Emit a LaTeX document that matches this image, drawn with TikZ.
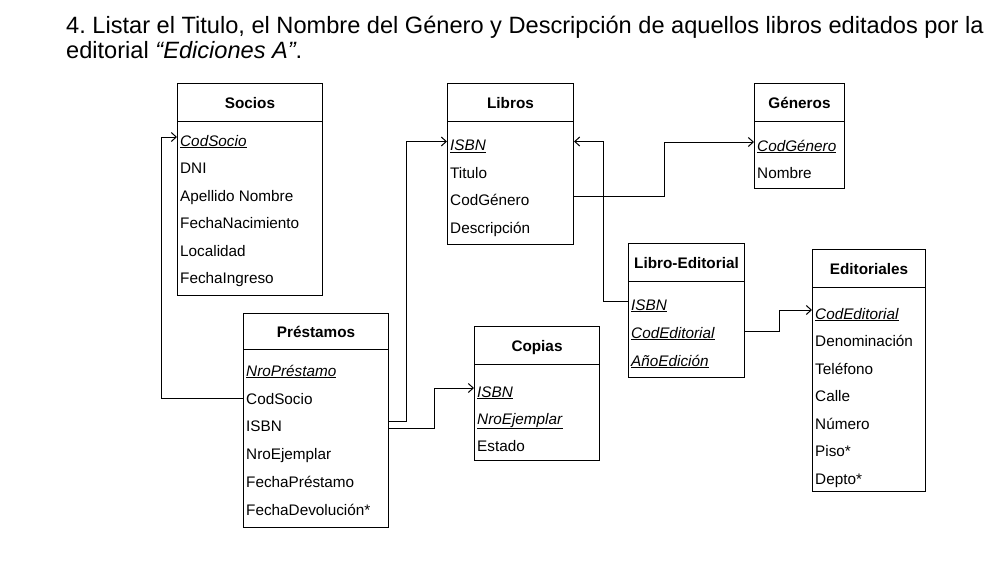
\documentclass[tikz,border=0pt]{standalone}
\usepackage{fontspec}
\setmainfont{Liberation Sans}
\usetikzlibrary{arrows.meta,calc}
\frenchspacing
\begin{document}
\begin{tikzpicture}[x=1pt,y=-1pt,
  box/.style={draw, line width=1pt, inner sep=0pt, anchor=north west},
  hdr/.style={box, font=\fontsize{15.3}{18}\selectfont\bfseries, text height=11pt, text depth=0pt},
  row/.style={anchor=west, inner sep=0pt, font=\fontsize{15.3}{18}\selectfont, text height=18pt, text depth=0pt},
  ttl/.style={anchor=base west, inner sep=0pt, font=\fontsize{23.6}{25}\selectfont},
  link/.style={line width=1pt, -{Straight Barb[length=5pt,width=9pt]}},
  plain/.style={line width=1pt}]
\useasboundingbox (0,0) rectangle (987,568);

% title
\node[ttl] (t1) at (66,33.3) {4. Listar el Titulo, el Nombre del Género y Descripción de aquellos libros editados por la};
\node[ttl] (t2) at (66,58.3) {editorial \textit{“Ediciones A”}.};

% Socios
\node[hdr, minimum width=145pt, minimum height=38pt] (sociosH) at (177,83) {Socios};
\node[box, minimum width=145pt, minimum height=174pt] (sociosB) at (177,121) {};
\node[row] (socCod) at (180,137) {\underline{\textit{CodSocio}}};
\node[row] (socDNI) at (180,164.5) {DNI};
\node[row] (socApe) at (180,192) {Apellido Nombre};
\node[row] (socFN) at (180,219.5) {FechaNacimiento};
\node[row] (socLoc) at (180,247) {Localidad};
\node[row] (socFI) at (180,274.5) {FechaIngreso};

% Libros
\node[hdr, minimum width=126pt, minimum height=38pt] (librosH) at (447,83) {Libros};
\node[box, minimum width=126pt, minimum height=123pt] (librosB) at (447,121) {};
\node[row] (libISBN) at (450,141.5) {\underline{\textit{ISBN}}};
\node[row] (libTit) at (450,169) {Titulo};
\node[row] (libGen) at (450,196.5) {CodGénero};
\node[row] (libDes) at (450,224) {Descripción};

% Generos
\node[hdr, minimum width=90pt, minimum height=38pt] (generosH) at (754,83) {Géneros};
\node[box, minimum width=90pt, minimum height=67pt] (generosB) at (754,121) {};
\node[row] (genCod) at (757,142) {\underline{\textit{CodGénero}}};
\node[row] (genNom) at (757,169.5) {Nombre};

% Libro-Editorial
\node[hdr, minimum width=116pt, minimum height=38pt] (leH) at (628,243) {Libro-Editorial};
\node[box, minimum width=116pt, minimum height=96pt] (leB) at (628,281) {};
\node[row] (leISBN) at (631,301) {\underline{\textit{ISBN}}};
\node[row] (leCodEd) at (631,329) {\underline{\textit{CodEditorial}}};
\node[row] (leAnio) at (631,357) {\underline{\textit{AñoEdición}}};

% Editoriales
\node[hdr, minimum width=113pt, minimum height=38pt] (editH) at (812,249) {Editoriales};
\node[box, minimum width=113pt, minimum height=204pt] (editB) at (812,287) {};
\node[row] (editCod) at (815,310) {\underline{\textit{CodEditorial}}};
\node[row] (editDen) at (815,337.5) {Denominación};
\node[row] (editTel) at (815,365) {Teléfono};
\node[row] (editCal) at (815,392.5) {Calle};
\node[row] (editNum) at (815,420) {Número};
\node[row] (editPis) at (815,447.5) {Piso*};
\node[row] (editDep) at (815,475) {Depto*};

% Prestamos
\node[hdr, minimum width=145pt, minimum height=36pt] (presH) at (243,313) {Préstamos};
\node[box, minimum width=145pt, minimum height=178pt] (presB) at (243,349) {};
\node[row] (presNro) at (246,367) {\underline{\textit{NroPréstamo}}};
\node[row] (presCod) at (246,395) {CodSocio};
\node[row] (presISBN) at (246,422) {ISBN};
\node[row] (presEj) at (246,450) {NroEjemplar};
\node[row] (presFP) at (246,478) {FechaPréstamo};
\node[row] (presFD) at (246,506) {FechaDevolución*};

% Copias
\node[hdr, minimum width=125pt, minimum height=38pt] (copiasH) at (474,326) {Copias};
\node[box, minimum width=125pt, minimum height=96pt] (copiasB) at (474,364) {};
\node[row] (copISBN) at (477,388) {\underline{\textit{ISBN}}};
\node[row] (copEj) at (477,415) {\underline{\textit{NroEjemplar}}};
\node[row] (copEst) at (477,442) {Estado};

% connectors
\draw[link] ($(presB.west |- presCod)+(0,3)$) -- ++(-82,0) |- (sociosB.west |- socCod);
\draw[link] ($(presB.east |- presISBN)+(0,-1)$) -- ++(17,0) |- (librosB.west |- libISBN);
\draw[link] ($(presB.east |- presISBN)+(0,6)$) -- ++(45,0) |- (copiasB.west |- copISBN);
\draw[link] (librosB.east |- libGen) -- ++(90,0) |- (generosB.west |- genCod);
\draw[link] (leB.west |- leISBN) -- ++(-25,0) |- (librosB.east |- libISBN);
\draw[link] ($(leB.east |- leCodEd)+(0,2)$) -- ++(34,0) |- (editB.west |- editCod);
\end{tikzpicture}
\end{document}
